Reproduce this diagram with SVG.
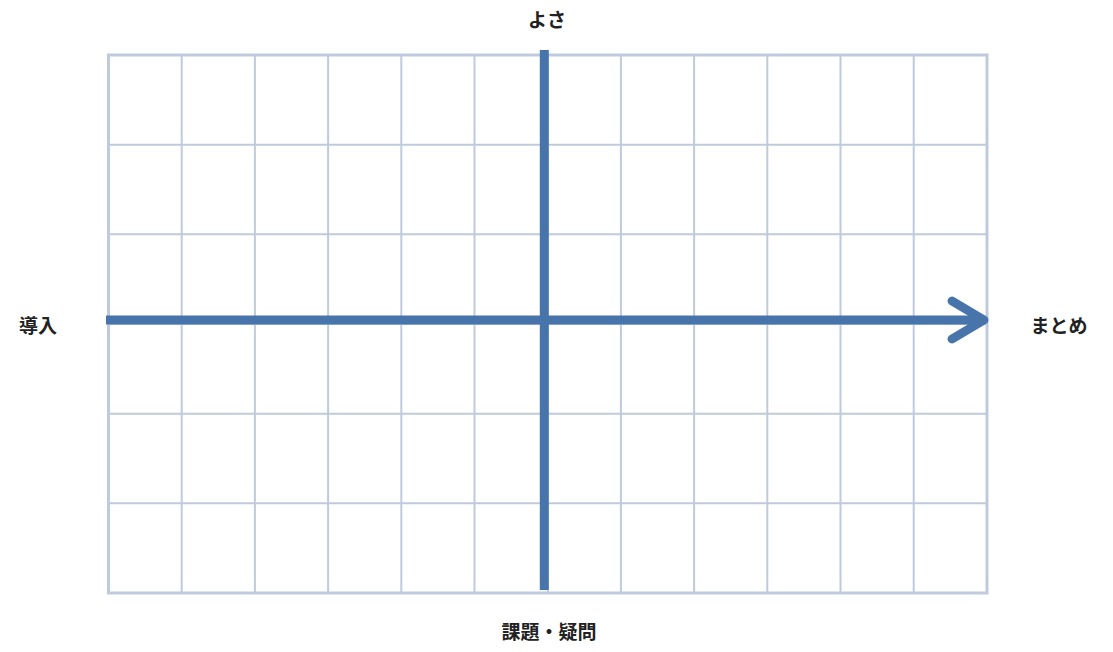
<svg xmlns="http://www.w3.org/2000/svg" width="1113" height="652" viewBox="0 0 1113 652">
<style>
.g{stroke:#BFCBDC;stroke-width:2;fill:none}
.b{stroke:#BFCBDC;stroke-width:3;fill:none}
.ax{stroke:#4775AB;stroke-width:9;fill:none}
.t{font-family:"Noto Sans CJK JP","Noto Sans CJK SC",sans-serif;font-size:19px;font-weight:bold;fill:#222;text-anchor:middle}
</style>
<rect width="1113" height="652" fill="#fff"/>
<g id="grid">
<path class="g" d="M181.7 55V593M254.9 55V593M328.1 55V593M401.3 55V593M474.5 55V593M547.7 55V593M620.9 55V593M694.1 55V593M767.3 55V593M840.5 55V593M913.7 55V593"/>
<path class="g" d="M108.5 144.7H987M108.5 234.3H987M108.5 324H987M108.5 413.7H987M108.5 503.3H987"/>
<rect class="b" x="108.5" y="55" width="878.5" height="538"/>
</g>
<g id="connectors">
<path class="ax" d="M106 320H982"/>
<path class="ax" d="M952 301L984 320L952 339" stroke-linecap="round" stroke-linejoin="round"/>
<path class="ax" d="M544.3 50V590"/>
</g>
<g id="top"><text class="t" x="547" y="27">よさ</text></g>
<g id="right"><text class="t" x="1059" y="333">まとめ</text></g>
<g id="left"><text class="t" x="38" y="333">導入</text></g>
<g id="bottom"><text class="t" x="549" y="639">課題・疑問</text></g>
</svg>
